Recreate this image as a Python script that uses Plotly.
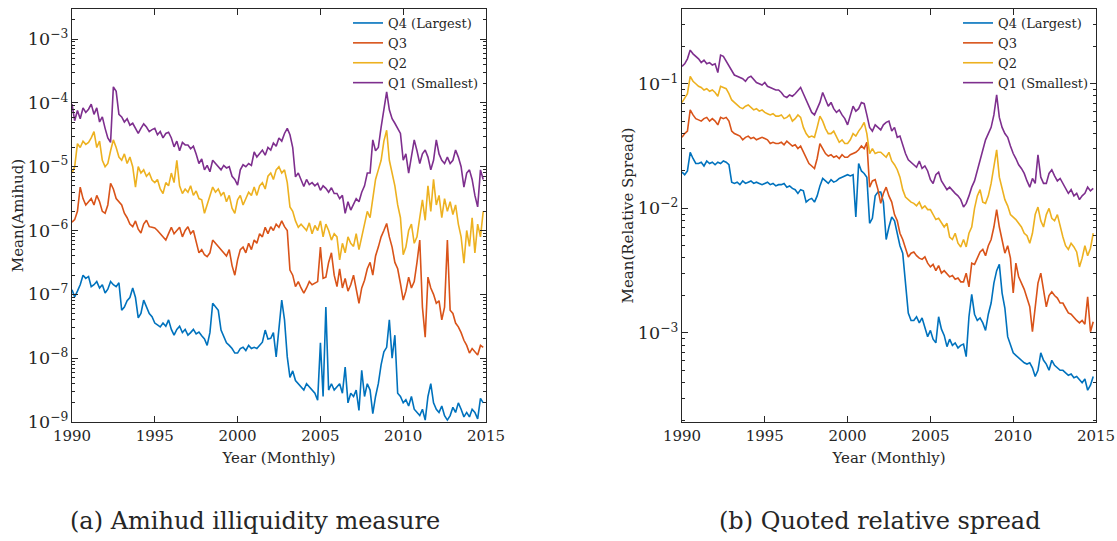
import pandas as pd
import plotly.graph_objects as go

# every second month, Jan 1990 .. Nov 2014
dates = pd.date_range("1990-01-01", periods=150, freq="2MS")

series_names = ["Q4 (Largest)", "Q3", "Q2", "Q1 (Smallest)"]
colors = ["#0072BD", "#D95319", "#EDB120", "#7E2F8E"]

# log10 of the values, six per year
amihud_q1 = [
    -4.02, -4.28, -4.12, -4.25, -4.08, -4.15,
    -4.10, -4.02, -4.18, -4.08, -4.30, -4.22,
    -4.40, -4.55, -4.62, -3.75, -3.82, -4.18,
    -4.22, -4.30, -4.25, -4.35, -4.32, -4.40,
    -4.48, -4.40, -4.33, -4.38, -4.45, -4.42,
    -4.40, -4.50, -4.45, -4.55, -4.48, -4.46,
    -4.55, -4.69, -4.60, -4.75, -4.62, -4.66,
    -4.66, -4.72, -4.68, -4.80, -4.95, -4.88,
    -5.05, -4.98, -5.08, -4.90, -4.95, -5.00,
    -5.05, -4.98, -5.02, -5.00, -5.15, -5.20,
    -5.29, -5.05, -4.97, -5.00, -4.95, -4.98,
    -4.77, -4.85, -4.80, -4.74, -4.82, -4.70,
    -4.74, -4.63, -4.68, -4.55, -4.60, -4.48,
    -4.40, -4.50, -4.70, -5.16, -5.10, -5.22,
    -5.31, -5.20, -5.28, -5.25, -5.30, -5.26,
    -5.37, -5.30, -5.34, -5.40, -5.33, -5.42,
    -5.42, -5.50, -5.45, -5.73, -5.55, -5.68,
    -5.60, -5.50, -5.55, -5.40, -5.30, -5.10,
    -5.10, -4.58, -4.75, -4.70, -4.38, -4.10,
    -3.83, -4.11, -4.25, -4.32, -4.40, -4.48,
    -4.90, -4.80, -5.10, -4.85, -4.58, -4.75,
    -4.95, -4.80, -4.74, -4.85, -5.05, -4.90,
    -4.58, -4.80, -4.90, -4.95, -4.85, -4.95,
    -4.90, -4.74, -4.85, -5.00, -5.32, -5.10,
    -5.05, -5.20, -5.45, -5.63, -5.05, -5.20,
]
amihud_q2 = [
    -5.10, -5.00, -4.64, -4.70, -4.60, -4.65,
    -4.62, -4.55, -4.45, -4.70, -4.60, -4.90,
    -5.00, -4.95, -4.75, -4.58, -4.70, -4.85,
    -4.90, -4.80, -4.95, -4.85, -5.00, -5.32,
    -5.00, -5.10, -5.05, -5.15, -5.10, -5.21,
    -5.25, -5.20, -5.35, -5.42, -5.25, -5.30,
    -5.10, -5.25, -4.90, -5.30, -5.42, -5.35,
    -5.40, -5.30, -5.45, -5.38, -5.50, -5.52,
    -5.73, -5.60, -5.45, -5.32, -5.40, -5.35,
    -5.45, -5.40, -5.55, -5.45, -5.65, -5.73,
    -5.52, -5.45, -5.60, -5.50, -5.40, -5.45,
    -5.32, -5.45, -5.30, -5.25, -5.35, -5.15,
    -5.10, -5.20, -5.05, -5.00, -5.10, -5.05,
    -5.25, -5.63, -5.70, -5.85, -5.95, -5.90,
    -5.95, -6.00, -5.88, -6.05, -5.92, -6.00,
    -5.85, -6.10, -5.90, -6.00, -6.15, -6.05,
    -6.10, -6.46, -6.20, -6.35, -6.10, -6.20,
    -6.25, -6.05, -6.30, -6.10, -5.90, -5.70,
    -5.80, -5.50, -5.20, -5.05, -4.90, -4.60,
    -4.43, -4.90, -5.10, -5.30, -5.60, -5.80,
    -6.38, -6.26, -6.00, -5.90, -6.20, -6.10,
    -5.80, -5.52, -5.84, -5.30, -5.70, -5.20,
    -5.60, -5.45, -5.80, -5.50, -5.70, -5.55,
    -5.75, -5.60, -5.90, -6.10, -6.51, -6.00,
    -6.25, -5.80, -6.35, -5.90, -6.10, -5.70,
]
amihud_q3 = [
    -5.87, -5.83, -5.70, -5.32, -5.50, -5.60,
    -5.55, -5.50, -5.60, -5.45, -5.55, -5.70,
    -5.73, -5.60, -5.26, -5.35, -5.50, -5.55,
    -5.60, -5.73, -5.80, -5.90, -5.94, -5.85,
    -5.98, -6.04, -5.90, -5.84, -5.94, -5.95,
    -5.96, -6.00, -6.05, -6.10, -6.15, -6.05,
    -5.95, -6.05, -6.00, -5.95, -6.10, -6.00,
    -5.94, -6.05, -6.00, -6.20, -6.35, -6.30,
    -6.38, -6.41, -6.35, -6.15, -6.20, -6.25,
    -6.30, -6.35, -6.40, -6.30, -6.55, -6.70,
    -6.46, -6.30, -6.26, -6.35, -6.20, -6.30,
    -6.15, -6.20, -6.05, -6.10, -5.95, -6.05,
    -5.94, -6.00, -5.90, -5.95, -5.85, -5.94,
    -6.00, -6.62, -6.70, -6.88, -6.80, -6.90,
    -6.98, -6.90, -6.80, -6.85, -6.83, -6.80,
    -6.26, -6.75, -6.73, -6.50, -6.35, -6.70,
    -6.88, -6.60, -6.90, -6.75, -6.95, -6.85,
    -6.70, -6.95, -7.14, -6.90, -6.78, -6.60,
    -6.50, -6.70, -6.40, -6.26, -6.10, -6.00,
    -5.89, -6.10, -6.26, -6.50, -6.60, -6.83,
    -7.09, -6.95, -6.73, -6.90, -6.80, -6.50,
    -6.15, -7.20, -7.67, -6.73, -6.90, -7.00,
    -7.14, -7.10, -7.40, -7.20, -6.15, -7.25,
    -7.30, -7.45, -7.51, -7.60, -7.72, -7.80,
    -7.92, -7.85, -7.90, -7.95, -7.80, -7.83,
]
amihud_q4 = [
    -6.93, -7.04, -6.95, -6.85, -6.70, -6.75,
    -6.72, -6.88, -6.85, -6.80, -6.90, -6.85,
    -6.98, -6.92, -6.80, -6.85, -6.88, -6.82,
    -7.25, -7.20, -7.10, -7.05, -6.90, -7.05,
    -7.37, -7.30, -7.09, -7.20, -7.30, -7.35,
    -7.45, -7.48, -7.51, -7.45, -7.50, -7.40,
    -7.55, -7.64, -7.55, -7.50, -7.60, -7.55,
    -7.64, -7.60, -7.55, -7.62, -7.59, -7.65,
    -7.70, -7.80, -7.60, -7.14, -7.20, -7.25,
    -7.56, -7.65, -7.76, -7.80, -7.85, -7.92,
    -7.92, -7.85, -7.83, -7.88, -7.80, -7.85,
    -7.83, -7.85, -7.80, -7.75, -7.56, -7.70,
    -7.69, -7.60, -7.98, -7.51, -7.09, -7.40,
    -7.98, -8.30, -8.20, -8.35, -8.40, -8.45,
    -8.50, -8.40, -8.45, -8.50, -8.55, -8.66,
    -7.76, -8.60, -7.20, -8.50, -8.40, -8.50,
    -8.45, -8.40, -8.55, -8.14, -8.70, -8.55,
    -8.60, -8.50, -8.82, -8.19, -8.60, -8.40,
    -8.50, -8.87, -8.60, -8.40, -8.10, -7.90,
    -7.83, -7.40, -8.00, -7.64, -8.55, -8.60,
    -8.70, -8.65, -8.75, -8.60, -8.80, -8.85,
    -8.90, -8.80, -8.97, -8.60, -8.40, -8.70,
    -8.80, -8.85, -8.75, -8.90, -8.97, -8.90,
    -8.77, -8.85, -8.70, -8.80, -8.92, -8.85,
    -8.92, -8.80, -8.85, -8.95, -8.63, -8.70,
]

spread_q1 = [
    -0.86, -0.84, -0.80, -0.73, -0.76, -0.78,
    -0.80, -0.83, -0.81, -0.84, -0.83, -0.85,
    -0.84, -0.91, -0.77, -0.78, -0.82, -0.86,
    -0.90, -0.93, -0.94, -0.95, -0.96, -0.98,
    -0.95, -0.94, -0.97, -0.99, -1.00, -1.01,
    -0.99, -1.02, -1.03, -1.04, -1.05, -1.05,
    -1.07, -1.10, -1.11, -1.09, -1.10, -1.08,
    -1.05, -1.03, -1.08, -1.13, -1.19, -1.23,
    -1.25, -1.20, -1.15, -1.07, -1.12, -1.18,
    -1.15, -1.20, -1.23, -1.21, -1.25, -1.28,
    -1.33, -1.25, -1.18, -1.22, -1.20, -1.15,
    -1.16, -1.25, -1.35, -1.38, -1.33, -1.35,
    -1.37, -1.33, -1.31, -1.30, -1.38, -1.35,
    -1.43, -1.42, -1.50, -1.56, -1.61, -1.63,
    -1.65, -1.67, -1.62, -1.68, -1.66, -1.70,
    -1.77, -1.80, -1.73, -1.71, -1.78, -1.82,
    -1.85, -1.83, -1.86, -1.88, -1.90, -1.93,
    -1.99, -1.96, -1.90, -1.83, -1.78, -1.70,
    -1.61, -1.55, -1.45, -1.40, -1.35, -1.25,
    -1.09, -1.27, -1.35, -1.40, -1.43, -1.50,
    -1.56, -1.60, -1.65, -1.68, -1.72, -1.78,
    -1.83, -1.76, -1.80, -1.57, -1.75, -1.80,
    -1.80, -1.72, -1.69, -1.74, -1.78, -1.76,
    -1.80, -1.84, -1.88, -1.85, -1.90, -1.88,
    -1.93, -1.90, -1.88, -1.83, -1.86, -1.84,
]
spread_q2 = [
    -1.15, -1.12, -1.08, -0.94, -0.98, -1.00,
    -1.02, -1.03, -1.05, -1.04, -1.06, -1.05,
    -1.07, -1.10, -1.02, -1.03, -1.04, -1.08,
    -1.13, -1.15, -1.17, -1.19, -1.20, -1.18,
    -1.17, -1.19, -1.21, -1.20, -1.22, -1.21,
    -1.23, -1.24, -1.25, -1.24, -1.26, -1.26,
    -1.25, -1.28, -1.27, -1.25, -1.30, -1.28,
    -1.25, -1.27, -1.35, -1.40, -1.43, -1.42,
    -1.43, -1.35, -1.26, -1.30, -1.36, -1.40,
    -1.40, -1.38, -1.42, -1.47, -1.45, -1.48,
    -1.48, -1.45, -1.40, -1.42, -1.38, -1.35,
    -1.31, -1.40, -1.56, -1.52, -1.56, -1.55,
    -1.55, -1.57, -1.59, -1.55, -1.62, -1.65,
    -1.69, -1.75, -1.85, -1.91, -1.93, -1.95,
    -1.96, -1.98, -1.95, -2.00, -1.98, -2.01,
    -2.01, -2.05, -2.09, -2.08, -2.12, -2.15,
    -2.12, -2.23, -2.25, -2.20, -2.28, -2.31,
    -2.25, -2.31, -2.20, -2.15, -2.00, -1.90,
    -1.85, -1.95, -1.96, -1.90, -1.80, -1.65,
    -1.53, -1.75, -1.85, -1.93, -1.98, -2.05,
    -2.07, -2.09, -2.12, -2.15, -2.20, -2.22,
    -2.28, -2.20, -2.05, -1.99, -2.10, -2.15,
    -2.05, -2.00, -2.08, -2.10, -2.05, -2.15,
    -2.23, -2.30, -2.33, -2.28, -2.31, -2.35,
    -2.47, -2.40, -2.30, -2.38, -2.32, -2.20,
]
spread_q3 = [
    -1.43, -1.40, -1.38, -1.21, -1.25, -1.28,
    -1.29, -1.30, -1.28, -1.27, -1.30, -1.28,
    -1.30, -1.33, -1.27, -1.28, -1.27, -1.30,
    -1.38, -1.40, -1.41, -1.42, -1.45, -1.43,
    -1.42, -1.44, -1.43, -1.45, -1.44, -1.43,
    -1.44, -1.45, -1.48, -1.47, -1.48, -1.48,
    -1.47, -1.49, -1.46, -1.48, -1.50, -1.49,
    -1.52, -1.50, -1.55, -1.60, -1.64, -1.66,
    -1.68, -1.60, -1.48, -1.52, -1.56, -1.58,
    -1.57, -1.59, -1.58, -1.60, -1.57, -1.59,
    -1.59, -1.57, -1.56, -1.55, -1.53, -1.50,
    -1.52, -1.47, -1.83, -1.78, -1.77, -1.85,
    -1.96, -1.88, -1.83, -1.90, -1.95, -2.05,
    -2.10, -2.20, -2.25, -2.33, -2.39, -2.36,
    -2.35, -2.38, -2.40, -2.41, -2.39, -2.44,
    -2.47, -2.45, -2.50, -2.46, -2.52, -2.50,
    -2.53, -2.55, -2.54, -2.57, -2.56, -2.59,
    -2.59, -2.52, -2.63, -2.44, -2.45, -2.40,
    -2.35, -2.33, -2.38, -2.30, -2.25, -2.15,
    -2.01, -2.15, -2.25, -2.36, -2.30, -2.40,
    -2.68, -2.44, -2.55, -2.60, -2.65, -2.72,
    -2.79, -2.99, -2.80, -2.60, -2.52, -2.65,
    -2.79, -2.70, -2.67, -2.70, -2.72, -2.76,
    -2.76, -2.80, -2.84, -2.85, -2.88, -2.90,
    -2.92, -2.90, -2.93, -2.71, -2.99, -2.91,
]
spread_q4 = [
    -1.71, -1.73, -1.70, -1.55, -1.60, -1.64,
    -1.64, -1.63, -1.66, -1.62, -1.64, -1.63,
    -1.65, -1.63, -1.64, -1.62, -1.63, -1.65,
    -1.79, -1.80, -1.79, -1.81, -1.78, -1.80,
    -1.79, -1.78, -1.80, -1.79, -1.80, -1.81,
    -1.80, -1.79, -1.81, -1.80, -1.82, -1.81,
    -1.81, -1.80, -1.83, -1.82, -1.84, -1.85,
    -1.88, -1.85, -1.86, -1.95, -1.93, -1.92,
    -1.95, -1.90, -1.82, -1.76, -1.78, -1.80,
    -1.77, -1.79, -1.78, -1.76, -1.75, -1.74,
    -1.73, -1.74, -1.73, -2.07, -1.64, -1.70,
    -1.72, -1.75, -2.12, -2.08, -1.90, -1.87,
    -1.87, -1.95, -2.25, -2.15, -2.07, -2.10,
    -2.20, -2.30, -2.36, -2.60, -2.84, -2.90,
    -2.90, -2.87, -2.92, -2.88, -2.95, -3.03,
    -2.98, -3.05, -3.08, -2.87, -2.97, -3.02,
    -3.11, -3.05, -3.10, -3.08, -3.12, -3.10,
    -3.09, -3.19, -2.87, -2.69, -2.85, -2.90,
    -2.88, -2.92, -2.98, -2.85, -2.76, -2.60,
    -2.50, -2.45, -2.68, -2.80, -3.03, -3.10,
    -3.16, -3.18, -3.20, -3.22, -3.24, -3.25,
    -3.24, -3.28, -3.35, -3.30, -3.16, -3.22,
    -3.25, -3.30, -3.22, -3.26, -3.28, -3.30,
    -3.30, -3.32, -3.34, -3.33, -3.36, -3.35,
    -3.38, -3.40, -3.37, -3.46, -3.42, -3.35,
]

amihud = [amihud_q4, amihud_q3, amihud_q2, amihud_q1]
spread = [spread_q4, spread_q3, spread_q2, spread_q1]

FONT = "DejaVu Serif, Liberation Serif, serif"
INK = "#262626"
W, H = 1117, 541

fig = go.Figure()
for name, col, ys in zip(series_names, colors, amihud):
    fig.add_trace(go.Scatter(x=dates, y=[10 ** v for v in ys], mode="lines", name=name,
                             line=dict(color=col, width=1.6), xaxis="x", yaxis="y",
                             legend="legend"))
for name, col, ys in zip(series_names, colors, spread):
    fig.add_trace(go.Scatter(x=dates, y=[10 ** v for v in ys], mode="lines", name=name,
                             line=dict(color=col, width=1.6), xaxis="x2", yaxis="y2",
                             legend="legend2"))

xcommon = dict(type="date", range=["1990-01-01", "2015-01-01"], dtick="M60", tickformat="%Y",
               ticks="inside", ticklen=6, tickcolor=INK, showline=True, linecolor=INK,
               linewidth=1, mirror="ticks", showgrid=False, zeroline=False, automargin=False,
               ticklabeloverflow="allow",
               tickfont=dict(family=FONT, size=15, color=INK),
               title=dict(text="Year (Monthly)", font=dict(family=FONT, size=15, color=INK),
                          standoff=8))
ycommon = dict(type="log", dtick=1, exponentformat="power", ticks="inside", ticklen=6,
               tickcolor=INK, showline=True, linecolor=INK, linewidth=1, mirror="ticks",
               showgrid=False, zeroline=False, automargin=False,
               minor=dict(dtick="D1", ticks="inside", ticklen=3, tickcolor=INK,
                          showgrid=False),
               tickfont=dict(family=FONT, size=14, color=INK))

ydom = [1 - 422 / H, 1 - 9 / H]

fig.update_layout(
    width=W, height=H,
    margin=dict(l=0, r=0, t=0, b=0),
    paper_bgcolor="white", plot_bgcolor="white",
    xaxis=dict(xcommon, domain=[72 / W, 486 / W], anchor="y"),
    yaxis=dict(ycommon, domain=ydom, anchor="x", range=[-9, -2.53],
               title=dict(text="Mean(Amihud)", font=dict(family=FONT, size=15, color=INK),
                          standoff=0)),
    xaxis2=dict(xcommon, domain=[682 / W, 1096 / W], anchor="y2"),
    yaxis2=dict(ycommon, domain=ydom, anchor="x2", range=[-3.715, -0.4],
                title=dict(text="Mean(Relative Spread)",
                           font=dict(family=FONT, size=15, color=INK), standoff=0)),
    legend=dict(x=484 / W, y=1 - 8 / H, xanchor="right", yanchor="top",
                bgcolor="rgba(0,0,0,0)", font=dict(family=FONT, size=13, color=INK),
                itemwidth=30, tracegroupgap=0),
    legend2=dict(x=1094 / W, y=1 - 8 / H, xanchor="right", yanchor="top",
                 bgcolor="rgba(0,0,0,0)", font=dict(family=FONT, size=13, color=INK),
                 itemwidth=30, tracegroupgap=0),
    annotations=[
        dict(text="(a) Amihud illiquidity measure", x=255 / W, y=1 - 521 / H,
             xref="paper", yref="paper", showarrow=False, xanchor="center", yanchor="middle",
             font=dict(family=FONT, size=24, color=INK)),
        dict(text="(b) Quoted relative spread", x=880 / W, y=1 - 521 / H,
             xref="paper", yref="paper", showarrow=False, xanchor="center", yanchor="middle",
             font=dict(family=FONT, size=24, color=INK)),
    ],
)

# the page's default 8px body margin would push the figure off the window
fig.write_html("out.html", config={"displayModeBar": False},
               post_script="document.body.style.margin = '0px';")
